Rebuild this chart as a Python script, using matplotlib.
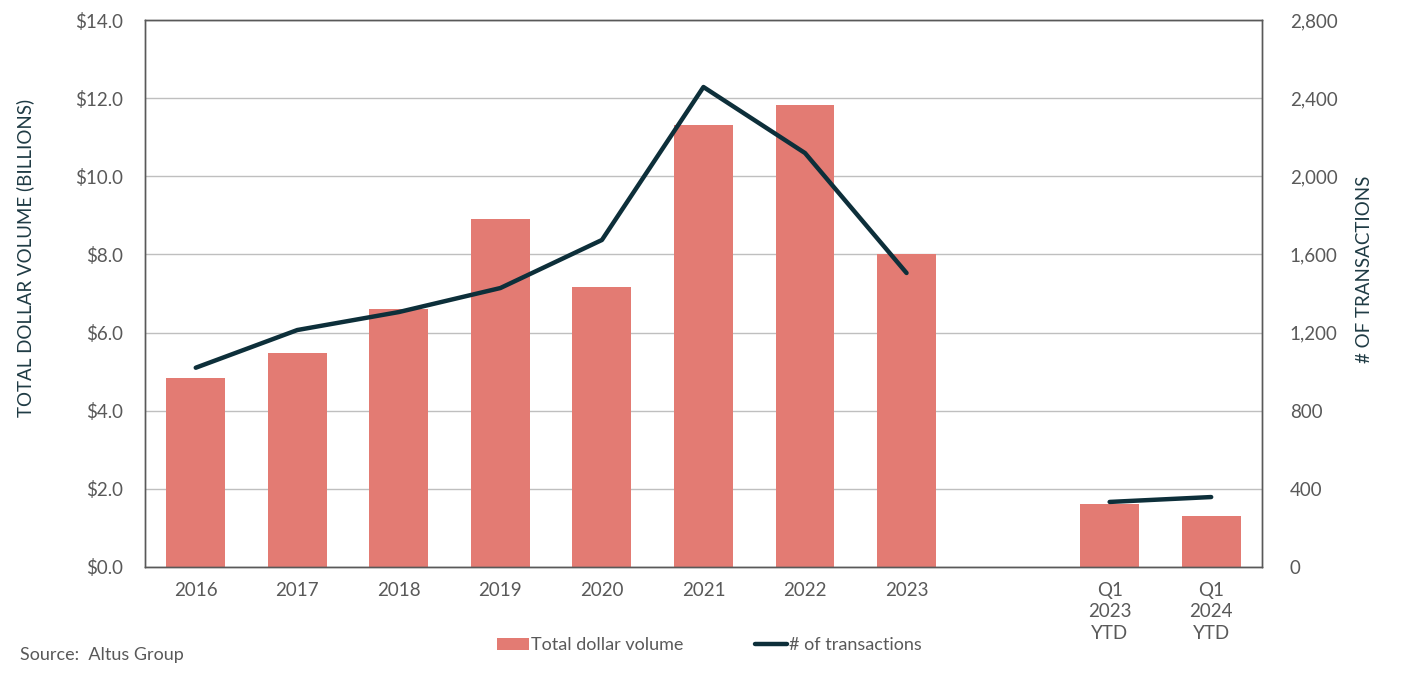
import matplotlib.pyplot as plt
import numpy as np
from matplotlib.ticker import FuncFormatter

categories = ["2016", "2017", "2018", "2019", "2020", "2021", "2022", "2023", "",
              "Q1\n2023\nYTD", "Q1\n2024\nYTD"]
dollar_volume = [4.84, 5.48, 6.61, 8.91, 7.17, 11.31, 11.82, 8.01, np.nan, 1.61, 1.31]
transactions = [1020, 1213, 1305, 1428, 1674, 2457, 2119, 1505, np.nan, 333, 358]

BAR = "#e37b73"
LINE = "#0d2f3a"
TEXT = "#595959"

plt.rcParams["font.family"] = ["Lato", "DejaVu Sans"]

fig = plt.figure(figsize=(14.13, 6.95), dpi=100)
ax = fig.add_axes([0.1026, 0.1842, 0.7905, 0.787])
ax2 = ax.twinx()

x = np.arange(len(categories))
ax.bar(x, dollar_volume, width=0.58, color=BAR, zorder=2, label="Total dollar volume")
ax2.plot(x, transactions, color=LINE, lw=3.2, solid_capstyle="round", label="# of transactions")

ax.set_xlim(-0.5, len(categories) - 0.5)
ax.set_ylim(0, 14)
ax.set_yticks(np.arange(0, 14.1, 2))
ax.yaxis.set_major_formatter(FuncFormatter(lambda v, p: f"${v:.1f}"))
ax2.set_ylim(0, 2800)
ax2.set_yticks(np.arange(0, 2801, 400))
ax2.yaxis.set_major_formatter(FuncFormatter(lambda v, p: f"{v:,.0f}"))

ax.grid(axis="y", color="#bfbfbf", lw=1, zorder=0)
ax.set_axisbelow(True)
ax.set_xticks(x)
ax.set_xticklabels(categories, linespacing=1.3)

for a in (ax, ax2):
    for s in a.spines.values():
        s.set_color("#595959")
        s.set_linewidth(1)
    a.tick_params(length=0, labelsize=13.5, colors=TEXT, pad=10)
ax.tick_params(axis="x", pad=11)
ax.tick_params(axis="y", pad=16)
ax2.tick_params(axis="y", pad=20)

fig.text(0.0175, 0.629, "TOTAL DOLLAR VOLUME (BILLIONS)", rotation=90, ha="center", va="center",
         fontsize=13.5, color="#1f3b44")
fig.text(0.966, 0.612, "# OF TRANSACTIONS", rotation=90, ha="center", va="center",
         fontsize=13.5, color="#1f3b44")

handles = [ax.containers[0], ax2.lines[0]]
fig.legend(handles, ["Total dollar volume", "# of transactions"], loc="center",
           bbox_to_anchor=(0.502, 0.0715), ncol=2, frameon=False, fontsize=13,
           labelcolor=TEXT, handlelength=1.75, handletextpad=0.1, columnspacing=4.0)

fig.text(0.014, 0.057, "Source:  Altus Group", fontsize=13, color=TEXT, va="center")

fig.savefig("out.png", dpi=100)
